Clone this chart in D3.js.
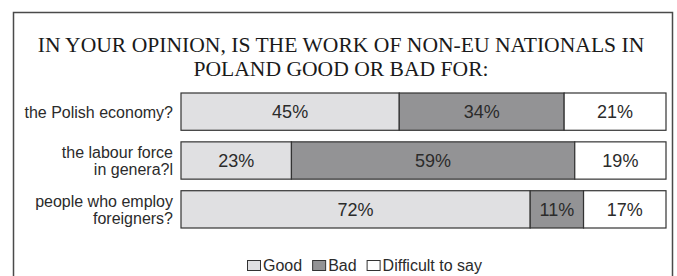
<!DOCTYPE html>
<html>
<head>
<meta charset="utf-8">
<script src="https://cdn.jsdelivr.net/npm/d3@7"></script>
<style>
  body { margin: 0; background: #fff; }
  svg { display: block; }
</style>
</head>
<body>
<div class="chart"></div>
<script>
// data
var titleLines = ['IN YOUR OPINION, IS THE WORK OF NON-EU NATIONALS IN', 'POLAND GOOD OR BAD FOR:'];
var categories = [
	['the Polish economy?'],
	['the labour force', 'in genera?l'],
	['people who employ', 'foreigners?']
];
var seriesNames = ['Good', 'Bad', 'Difficult to say'];
var good = [45, 23, 72];
var bad = [34, 59, 11];
var difficult = [21, 19, 17];

// options
var width = 677,
	height = 276;
var colors = ['#e0e0e2', '#939395', '#ffffff'];
var barStroke = '#333';
var textColor = '#2b2b2b';

var svg = d3.select('.chart').append('svg')
	.attr('width', width)
	.attr('height', height);

// frame (bottom edge is cut off in the picture)
svg.append('path')
	.attr('d', 'M13.5,' + height + 'V12.5H672.5V' + height)
	.attr('fill', 'none')
	.attr('stroke', '#4a4a4a')
	.attr('stroke-width', 1.5);

// title
var title = svg.append('g').attr('class', 'title');
title.selectAll('text')
	.data(titleLines)
	.enter()
	.append('text')
	.attr('x', 341)
	.attr('y', function(d, i) { return 52 + i * 24; })
	.attr('text-anchor', 'middle')
	.attr('font-family', '"Liberation Serif", "Times New Roman", serif')
	.attr('font-size', 21.6)
	.attr('fill', '#1a1a1a')
	.text(function(d) { return d; });

// stacks, normalised to the row total
var rows = categories.map(function(c, i) {
	var vals = [good[i], bad[i], difficult[i]];
	var total = d3.sum(vals);
	var acc = 0;
	return vals.map(function(v, k) {
		var seg = { row: i, key: k, value: v, x0: acc / total, x1: (acc + v) / total };
		acc += v;
		return seg;
	});
});

var x = d3.scaleLinear().domain([0, 1]).range([181, 666]);
var y = d3.scaleBand()
	.domain(d3.range(categories.length))
	.range([93, 228])
	.paddingInner(0.237)
	.paddingOuter(0);

var segs = d3.merge(rows);

svg.append('g').attr('class', 'bars').selectAll('rect')
	.data(segs)
	.enter()
	.append('rect')
	.attr('x', function(d) { return x(d.x0); })
	.attr('y', function(d) { return y(d.row); })
	.attr('width', function(d) { return x(d.x1) - x(d.x0); })
	.attr('height', y.bandwidth())
	.attr('fill', function(d) { return colors[d.key]; })
	.attr('stroke', barStroke)
	.attr('stroke-width', 1.2);

svg.append('g').attr('class', 'values').selectAll('text')
	.data(segs)
	.enter()
	.append('text')
	.attr('x', function(d) { return (x(d.x0) + x(d.x1)) / 2; })
	.attr('y', function(d) { return y(d.row) + y.bandwidth() / 2 + 6.5; })
	.attr('text-anchor', 'middle')
	.attr('font-family', '"Liberation Sans", Arial, sans-serif')
	.attr('font-size', 18)
	.attr('fill', textColor)
	.text(function(d) { return d.value + '%'; });

// category labels
var labels = svg.append('g').attr('class', 'labels').selectAll('text')
	.data(categories)
	.enter()
	.append('text')
	.attr('text-anchor', 'end')
	.attr('font-family', '"Liberation Sans", Arial, sans-serif')
	.attr('font-size', 16)
	.attr('fill', textColor);

labels.selectAll('tspan')
	.data(function(d, i) {
		return d.map(function(line, j) { return { line: line, j: j, n: d.length, row: i }; });
	})
	.enter()
	.append('tspan')
	.attr('x', 173)
	.attr('y', function(d) {
		var c = y(d.row) + y.bandwidth() / 2;
		return c + 6 + (d.j - (d.n - 1) / 2) * 16.5;
	})
	.text(function(d) { return d.line; });

// legend
var legend = svg.append('g').attr('class', 'legend');
var lx = 247;
seriesNames.forEach(function(name, k) {
	legend.append('rect')
		.attr('x', lx + 0.5)
		.attr('y', 260.5)
		.attr('width', 13)
		.attr('height', 10)
		.attr('fill', colors[k])
		.attr('stroke', barStroke)
		.attr('stroke-width', 1);
	var t = legend.append('text')
		.attr('x', lx + 16)
		.attr('y', 271)
		.attr('font-family', '"Liberation Sans", Arial, sans-serif')
		.attr('font-size', 16)
		.attr('fill', textColor)
		.text(name);
	lx += 16 + t.node().getComputedTextLength() + 10;
});
</script>
</body>
</html>
